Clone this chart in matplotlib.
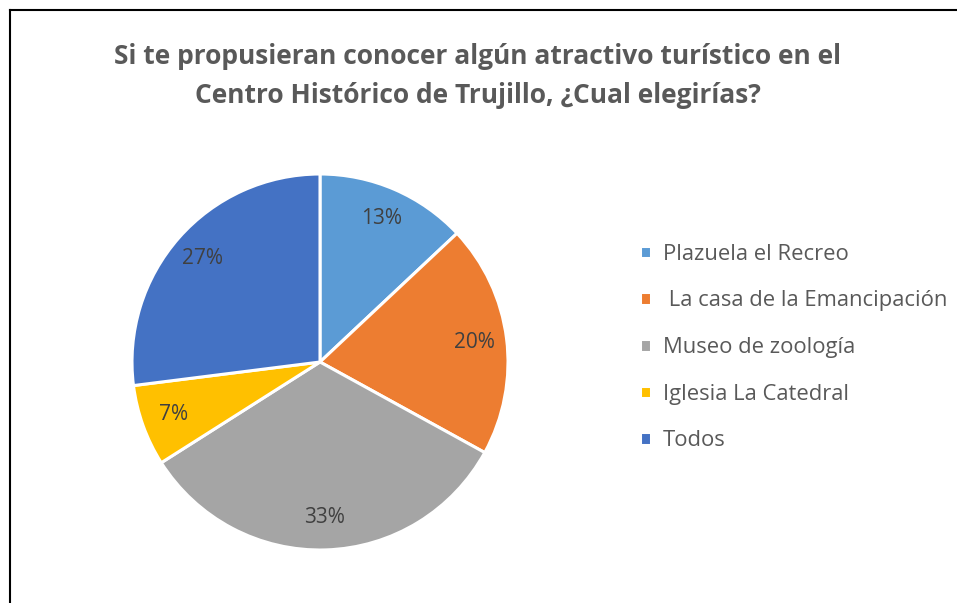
import matplotlib
matplotlib.use("Agg")
import matplotlib.pyplot as plt
from matplotlib.lines import Line2D

plt.rcParams['font.family'] = ['Open Sans', 'DejaVu Sans']

# data
labels = ['Plazuela el Recreo', ' La casa de la Emancipación', 'Museo de zoología',
          'Iglesia La Catedral', 'Todos']
values = [13, 20, 33, 7, 27]
colors = ['#5B9BD5', '#ED7D31', '#A5A5A5', '#FFC000', '#4472C4']

title_lines = ['Si te propusieran conocer algún atractivo turístico en el',
               'Centro Histórico de Trujillo, ¿Cual elegirías?']

W, H = 957, 603
fig = plt.figure(figsize=(W / 100, H / 100), dpi=100)

# pie axes: center (320, 362) px, radius 188 px
cx, cy, r = 320, 362, 188
ax = fig.add_axes([(cx - r) / W, (H - cy - r) / H, 2 * r / W, 2 * r / H])
wedges, texts, autotexts = ax.pie(
    values, colors=colors, startangle=90, counterclock=False,
    autopct='%.0f%%', pctdistance=0.83, radius=1,
    wedgeprops=dict(edgecolor='white', linewidth=2.2),
    textprops=dict(color='#404040', fontsize=15))
ax.set_xlim(-1, 1)
ax.set_ylim(-1, 1)
ax.set_aspect('equal')
ax.axis('off')

# title
fig.text(478 / W, 1 - 56 / H, title_lines[0], ha='center', va='center',
         fontsize=19, fontweight='bold', color='#595959')
fig.text(478 / W, 1 - 96 / H, title_lines[1], ha='center', va='center',
         fontsize=19, fontweight='bold', color='#595959')

# legend
leg = fig.legend(wedges, labels, loc='upper left',
                 bbox_to_anchor=(620 / W, 1 - 224 / H), frameon=False,
                 fontsize=15.8, labelcolor='#595959', handlelength=0.5,
                 handleheight=0.5, handletextpad=0.55, labelspacing=1.17)

# chart border (left and top edges)
fig.add_artist(Line2D([9.5 / W, 9.5 / W], [0, 1 - 10 / H], color='black',
                      linewidth=1.5, transform=fig.transFigure))
fig.add_artist(Line2D([9.5 / W, 1], [1 - 10 / H, 1 - 10 / H], color='black',
                      linewidth=1.5, transform=fig.transFigure))

fig.savefig('out.png', dpi=100)
